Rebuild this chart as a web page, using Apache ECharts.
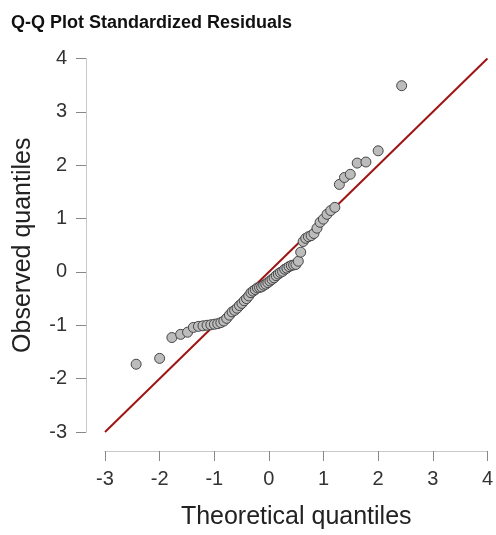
<!DOCTYPE html>
<html>
<head>
<meta charset="utf-8">
<script src="https://cdn.jsdelivr.net/npm/echarts@6/dist/echarts.min.js"></script>
<style>
html,body{margin:0;padding:0;background:#fff;}
#c{width:496px;height:535px;}
</style>
</head>
<body>
<div id="c"></div>
<script>
var titleText = 'Q-Q Plot Standardized Residuals';
var xName = 'Theoretical quantiles';
var yName = 'Observed quantiles';
var ticks = [-3, -2, -1, 0, 1, 2, 3, 4];

var theoretical = [
  -2.43, -2.00, -1.776, -1.616, -1.489, -1.383, -1.290, -1.207, -1.132, -1.063,
  -0.998, -0.937, -0.880, -0.825, -0.773, -0.723, -0.674, -0.627, -0.582, -0.538,
  -0.494, -0.452, -0.410, -0.369, -0.329, -0.289, -0.250, -0.210, -0.172, -0.133,
  -0.095, -0.057, -0.019, 0.019, 0.057, 0.095, 0.133, 0.172, 0.210, 0.250,
  0.289, 0.329, 0.369, 0.410, 0.452, 0.494, 0.538, 0.582, 0.627, 0.674,
  0.723, 0.773, 0.825, 0.880, 0.937, 0.998, 1.063, 1.132, 1.207, 1.290,
  1.383, 1.489, 1.616, 1.776, 2.00, 2.43
];
var observed = [
  -1.73, -1.62, -1.23, -1.17, -1.13, -1.04, -1.02, -1.01, -1.00, -0.99,
  -0.98, -0.97, -0.95, -0.92, -0.87, -0.81, -0.75, -0.72, -0.68, -0.63,
  -0.59, -0.54, -0.50, -0.45, -0.39, -0.36, -0.33, -0.30, -0.29, -0.28,
  -0.25, -0.23, -0.20, -0.17, -0.14, -0.11, -0.07, -0.04, -0.01, 0.01,
  0.05, 0.07, 0.10, 0.12, 0.13, 0.14, 0.20, 0.37, 0.57, 0.63,
  0.66, 0.68, 0.72, 0.82, 0.93, 0.99, 1.08, 1.15, 1.21, 1.64,
  1.77, 1.83, 2.04, 2.06, 2.27, 3.49
];
var refLineX = [-3, 4];
var refLineY = [-3, 4];

var points = theoretical.map(function (x, i) { return [x, observed[i]]; });
var linePts = refLineX.map(function (x, i) { return [x, refLineY[i]]; });

var font = 'Liberation Sans, Arial, sans-serif';
var chart = echarts.init(document.getElementById('c'), null, {renderer: 'canvas'});
chart.setOption({
  animation: false,
  title: {
    text: titleText,
    left: 6,
    top: 9,
    textStyle: {fontFamily: font, fontSize: 18, fontWeight: 'bold', color: '#111'}
  },
  grid: {left: 105, right: 8, top: 58.5, bottom: 101.7, containLabel: false},
  xAxis: {
    type: 'value',
    min: ticks[0], max: ticks[ticks.length - 1], interval: 1,
    offset: 19,
    name: xName,
    nameLocation: 'middle',
    nameGap: 54,
    nameTextStyle: {fontFamily: font, fontSize: 25, color: '#222'},
    axisLine: {show: true, onZero: false, lineStyle: {color: '#c8c8c8', width: 1}},
    axisTick: {show: true, length: 10, lineStyle: {color: '#888', width: 1}},
    axisLabel: {fontFamily: font, fontSize: 20, color: '#333', margin: 18},
    splitLine: {show: false}
  },
  yAxis: {
    type: 'value',
    min: ticks[0], max: ticks[ticks.length - 1], interval: 1,
    offset: 19,
    name: yName,
    nameLocation: 'middle',
    nameGap: 50,
    nameTextStyle: {fontFamily: font, fontSize: 25, color: '#222'},
    axisLine: {show: true, onZero: false, lineStyle: {color: '#c8c8c8', width: 1}},
    axisTick: {show: true, length: 10, lineStyle: {color: '#888', width: 1}},
    axisLabel: {fontFamily: font, fontSize: 20, color: '#333', margin: 19},
    splitLine: {show: false}
  },
  series: [
    {
      type: 'line',
      data: linePts,
      symbol: 'none',
      lineStyle: {color: '#9e1414', width: 2},
      z: 2
    },
    {
      type: 'scatter',
      data: points,
      symbol: 'circle',
      symbolSize: 10,
      itemStyle: {color: '#bcbcbc', borderColor: '#444', borderWidth: 1, opacity: 1},
      z: 3
    }
  ]
});
</script>
</body>
</html>
